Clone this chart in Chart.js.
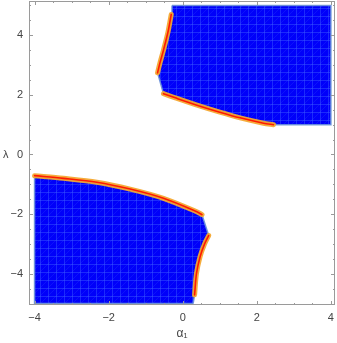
<!DOCTYPE html>
<html>
<head>
<meta charset="utf-8">
<script src="https://cdn.jsdelivr.net/npm/chart.js@4.4.0/dist/chart.umd.min.js"></script>
<style>
  html, body { margin: 0; padding: 0; background: #fff; }
  #wrap { width: 337px; height: 343px; }
</style>
</head>
<body>
<div id="wrap"><canvas id="c"></canvas></div>
<script>
// region outlines (alpha_1, lambda)
const upperCornerA = [-0.29, 4, 4, 2.5];
const upperCornerL = [5, 5, 1, 1];
const upperLowA = [-0.52, -0.2, 0.47, 1.0, 1.55, 2.18, 2.45];
const upperLowL = [2.04, 1.9, 1.62, 1.42, 1.23, 1.05, 1.0];
const upperSideA = [-0.68, -0.62, -0.52, -0.4, -0.31];
const upperSideL = [2.74, 3.05, 3.5, 4.1, 4.7];

const lowerCornerA = [0.28, -4, -4];
const lowerCornerL = [-5, -5, -0.71];
const lowerTopA = [-4, -3.22, -2.32, -1.42, -0.52, 0.38, 0.52];
const lowerTopL = [-0.71, -0.8, -0.93, -1.16, -1.47, -1.92, -2.02];
const lowerSideA = [0.70, 0.59, 0.47, 0.37, 0.32];
const lowerSideL = [-2.72, -3.0, -3.42, -4.0, -4.71];

const xTicks = [-4, -2, 0, 2, 4];
const yTicks = [-4, -2, 0, 2, 4];

const pts = (a, l) => a.map((x, i) => ({ x, y: l[i] }));

const upperPoly = [
  ...pts(upperCornerA, upperCornerL),
  ...pts(upperLowA, upperLowL).reverse(),
  ...pts(upperSideA, upperSideL),
];
upperPoly.push(upperPoly[0]);

const lowerPoly = [
  ...pts(lowerCornerA, lowerCornerL),
  ...pts(lowerTopA, lowerTopL),
  ...pts(lowerSideA, lowerSideL),
];
lowerPoly.push(lowerPoly[0]);

function meshPattern() {
  const c = document.createElement("canvas");
  c.width = 8; c.height = 8;
  const g = c.getContext("2d");
  g.fillStyle = "#0000fa";
  g.fillRect(0, 0, 8, 8);
  g.strokeStyle = "rgba(70,110,255,0.38)";
  g.lineWidth = 1;
  g.beginPath();
  g.moveTo(0.5, 0); g.lineTo(0.5, 8);
  g.moveTo(0, 0.5); g.lineTo(8, 0.5);
  g.stroke();
  g.strokeStyle = "rgba(60,90,255,0.2)";
  g.beginPath(); g.moveTo(0, 8); g.lineTo(8, 0); g.stroke();
  return g.createPattern(c, "repeat");
}
const mesh = meshPattern();

const region = (data) => ({
  data, showLine: true, fill: "shape", backgroundColor: mesh,
  borderColor: "rgba(105,145,215,0.9)", borderWidth: 1.5, pointRadius: 0, order: 3,
});
const curve = (data, color, width, order) => ({
  data, showLine: true, fill: false, borderColor: color, borderWidth: width,
  pointRadius: 0, tension: 0.3, borderCapStyle: "round", order,
});

const curves = [
  pts(upperLowA, upperLowL), pts(upperSideA, upperSideL),
  pts(lowerTopA, lowerTopL), pts(lowerSideA, lowerSideL),
];

const minus = (v) => String(v).replace("-", "\u2212");
const tickFont = { family: "'Liberation Sans', Arial, sans-serif", size: 11 };

const framePlugin = {
  id: "frame",
  afterDraw(chart) {
    const { ctx, chartArea: a, scales: { x, y } } = chart;
    ctx.save();
    ctx.strokeStyle = "#9a9a9a";
    ctx.lineWidth = 1;
    ctx.strokeRect(a.left + 0.5, a.top + 0.5, a.right - a.left - 1, a.bottom - a.top - 1);
    ctx.beginPath();
    for (let v = -4; v <= 4.001; v += 0.5) {
      const len = xTicks.includes(v) ? 4 : 2;
      const px = Math.round(x.getPixelForValue(v)) + 0.5;
      ctx.moveTo(px, a.bottom); ctx.lineTo(px, a.bottom - len);
      ctx.moveTo(px, a.top); ctx.lineTo(px, a.top + len);
    }
    for (let v = -5; v <= 5.001; v += 0.5) {
      const len = yTicks.includes(v) ? 4 : 2;
      const py = Math.round(y.getPixelForValue(v)) + 0.5;
      ctx.moveTo(a.left, py); ctx.lineTo(a.left + len, py);
      ctx.moveTo(a.right, py); ctx.lineTo(a.right - len, py);
    }
    ctx.stroke();
    ctx.fillStyle = "#444";
    ctx.font = "11px 'Liberation Sans', Arial, sans-serif";
    ctx.textBaseline = "middle";
    ctx.textAlign = "left";
    ctx.fillText("\u03bb", 3, y.getPixelForValue(0));
    ctx.restore();
  },
};

const noPad = (s) => { s.paddingTop = 0; s.paddingBottom = 0; s.paddingLeft = 0; s.paddingRight = 0; };

new Chart(document.getElementById("c"), {
  type: "scatter",
  data: {
    datasets: [
      region(upperPoly),
      region(lowerPoly),
      ...curves.map((c) => curve(c, "rgba(244,168,48,0.95)", 5, 2)),
      ...curves.map((c) => curve(c, "#ff1a00", 1.6, 1)),
    ],
  },
  options: {
    responsive: true,
    maintainAspectRatio: false,
    animation: false,
    layout: { padding: { top: 1, right: 2, left: 0, bottom: 0 } },
    plugins: { legend: { display: false }, tooltip: { enabled: false } },
    scales: {
      x: {
        type: "linear", min: -4.15, max: 4.11,
        afterBuildTicks: (s) => { s.ticks = xTicks.map((value) => ({ value })); },
        afterFit: (s) => { s.height = 38; noPad(s); },
        grid: { display: false, drawTicks: false },
        border: { display: false },
        ticks: { padding: 6, color: "#444", font: tickFont, callback: minus },
        title: { display: true, text: "\u03b1\u2081", color: "#444", font: { ...tickFont, size: 12 }, padding: { top: 0, bottom: 2 } },
      },
      y: {
        type: "linear", min: -5.05, max: 5.15,
        afterBuildTicks: (s) => { s.ticks = yTicks.map((value) => ({ value })); },
        afterFit: (s) => { s.width = 29; noPad(s); },
        grid: { display: false, drawTicks: false },
        border: { display: false },
        ticks: { padding: 6, color: "#444", font: tickFont, callback: minus },
      },
    },
  },
  plugins: [framePlugin],
});
</script>
</body>
</html>
